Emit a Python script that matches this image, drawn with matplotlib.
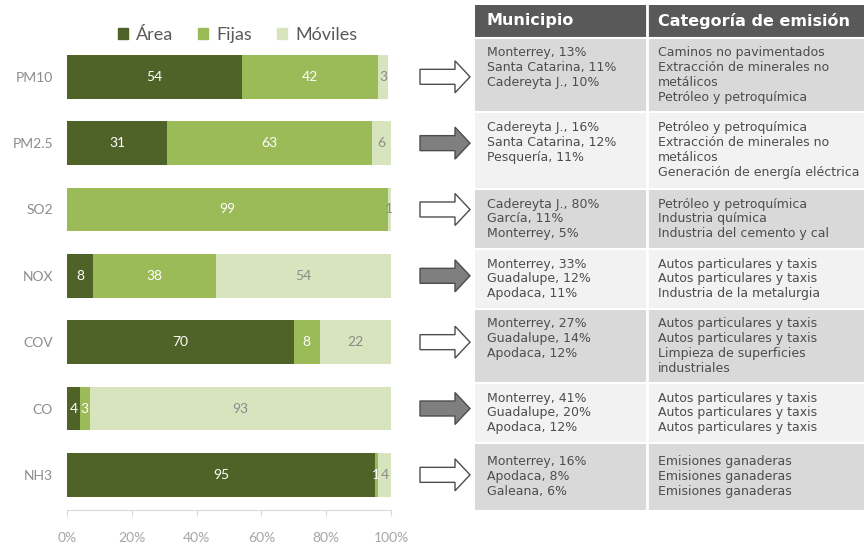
import matplotlib
matplotlib.use("Agg")
import matplotlib.pyplot as plt
from matplotlib.patches import Patch, Polygon, Rectangle

# Chart data
contaminantes = ["PM10", "PM2.5", "SO2", "NOX", "COV", "CO", "NH3"]
area = [54, 31, 0, 8, 70, 4, 95]
fijas = [42, 63, 99, 38, 8, 3, 1]
moviles = [3, 6, 1, 54, 22, 93, 4]
ticks = [0, 20, 40, 60, 80, 100]

# Arrow style per row (True = grey filled arrow)
flecha_gris = [False, True, False, True, False, True, False]

# Table data
encabezados = ["Municipio", "Categoría de emisión"]
municipios = [
    ["Monterrey, 13%", "Santa Catarina, 11%", "Cadereyta J., 10%"],
    ["Cadereyta J., 16%", "Santa Catarina, 12%", "Pesquería, 11%"],
    ["Cadereyta J., 80%", "García, 11%", "Monterrey, 5%"],
    ["Monterrey, 33%", "Guadalupe, 12%", "Apodaca, 11%"],
    ["Monterrey, 27%", "Guadalupe, 14%", "Apodaca, 12%"],
    ["Monterrey, 41%", "Guadalupe, 20%", "Apodaca, 12%"],
    ["Monterrey, 16%", "Apodaca, 8%", "Galeana, 6%"],
]
categorias = [
    ["Caminos no pavimentados", "Extracción de minerales no", "metálicos", "Petróleo y petroquímica"],
    ["Petróleo y petroquímica", "Extracción de minerales no", "metálicos", "Generación de energía eléctrica"],
    ["Petróleo y petroquímica", "Industria química", "Industria del cemento y cal"],
    ["Autos particulares y taxis", "Autos particulares y taxis", "Industria de la metalurgia"],
    ["Autos particulares y taxis", "Autos particulares y taxis", "Limpieza de superficies", "industriales"],
    ["Autos particulares y taxis", "Autos particulares y taxis", "Autos particulares y taxis"],
    ["Emisiones ganaderas", "Emisiones ganaderas", "Emisiones ganaderas"],
]

C_AREA = "#4f6228"
C_FIJAS = "#9bbb59"
C_MOV = "#d7e4bd"
GRIS = "#8c8c8c"

fig = plt.figure(figsize=(8.64, 5.5), dpi=100)
fig.patch.set_facecolor("white")

#########################################################
# Stacked bar chart
ax = fig.add_axes([67 / 864, 1 - 510 / 550, (391 - 67) / 864, (510 - 37) / 550])
y = list(range(len(contaminantes)))
left2 = [a for a in area]
left3 = [a + f for a, f in zip(area, fijas)]
b1 = ax.barh(y, area, height=0.66, color=C_AREA)
b2 = ax.barh(y, fijas, left=left2, height=0.66, color=C_FIJAS)
b3 = ax.barh(y, moviles, left=left3, height=0.66, color=C_MOV)

for cont, vals, col in [(b1, area, "white"), (b2, fijas, "white"), (b3, moviles, GRIS)]:
    ax.bar_label(cont, labels=[str(v) if v > 0 else "" for v in vals],
                 label_type="center", color=col, fontsize=10, family="Lato")

ax.set_xlim(0, 100)
ax.set_ylim(6.53, -0.6)
ax.set_yticks(y)
ax.set_yticklabels(contaminantes, fontsize=10, color=GRIS, family="Lato")
ax.set_xticks(ticks)
ax.set_xticklabels([f"{t}%" for t in ticks], fontsize=10, color="#a6a6a6", family="Lato")
ax.tick_params(axis="y", length=0, pad=10)
ax.tick_params(axis="x", length=4, color="#d9d9d9", pad=12)
for s in ["top", "right", "left"]:
    ax.spines[s].set_visible(False)
ax.spines["bottom"].set_color("#d9d9d9")

handles = [Patch(color=C_AREA, label="Área"), Patch(color=C_FIJAS, label="Fijas"),
           Patch(color=C_MOV, label="Móviles")]
fig.legend(handles=handles, loc="center", bbox_to_anchor=(0.275, 1 - 35 / 550), ncol=3,
           frameon=False, handlelength=0.55, handleheight=0.55, handletextpad=0.45,
           columnspacing=1.4, prop={"family": "Lato", "size": 13}, labelcolor="#595959")

#########################################################
# Overlay in pixel coordinates: arrows and table
ov = fig.add_axes([0, 0, 1, 1])
ov.set_xlim(0, 864)
ov.set_ylim(550, 0)
ov.axis("off")

to_ov = ov.transData.inverted()
for i, gris in enumerate(flecha_gris):
    c = to_ov.transform(ax.transData.transform((0, i)))[1]
    pts = [(420, c - 7.5), (455, c - 7.5), (455, c - 16), (470, c),
           (455, c + 16), (455, c + 7.5), (420, c + 7.5)]
    ov.add_patch(Polygon(pts, closed=True, facecolor="#7f7f7f" if gris else "white",
                         edgecolor="#4d4d4d", linewidth=1))

# Table
x0, x_mid, x1 = 475, 647, 864
ov.add_patch(Rectangle((x0, 5), x1 - x0, 32, facecolor="#595959", edgecolor="none"))
ov.text(487, 21, encabezados[0], color="white", fontsize=11.5, fontweight="bold", va="center")
ov.text(658, 21, encabezados[1], color="white", fontsize=11.5, fontweight="bold", va="center")

filas = [38, 112, 189, 249, 309, 383, 443, 510]
for i in range(len(municipios)):
    top, bot = filas[i], filas[i + 1]
    ov.add_patch(Rectangle((x0, top), x1 - x0, bot - top,
                           facecolor="#d9d9d9" if i % 2 == 0 else "#f2f2f2", edgecolor="none"))
    ov.plot([x0, x1], [top, top], color="white", lw=1.5)
    nl = max(len(municipios[i]), len(categorias[i]))
    ytxt = (top + bot) / 2 - nl * 15.3 / 2 + 1.5
    ov.text(487, ytxt, "\n".join(municipios[i]), fontsize=9, color="#4d4d4d",
            va="top", linespacing=1.19)
    ov.text(658, ytxt, "\n".join(categorias[i]), fontsize=9, color="#4d4d4d",
            va="top", linespacing=1.19)
ov.plot([x_mid, x_mid], [5, 510], color="white", lw=2)

fig.savefig("out.png", dpi=100)
